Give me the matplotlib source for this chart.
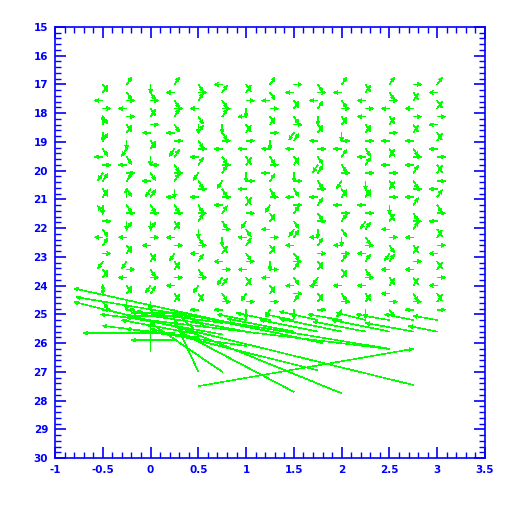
import numpy as np
import matplotlib
matplotlib.use('Agg')
import matplotlib.pyplot as plt
from matplotlib.ticker import MultipleLocator

# grid of small vectors: columns and rows
col_x = [-0.5, -0.25, 0.0, 0.25, 0.5, 0.75, 1.0, 1.25, 1.5, 1.75, 2.0, 2.25, 2.5, 2.75, 3.0]
row_y = [17.0, 17.28, 17.56, 17.84, 18.12, 18.4, 18.68, 18.96, 19.24, 19.52,
         19.8, 20.08, 20.36, 20.64, 20.92, 21.2, 21.48, 21.76, 22.04, 22.32,
         22.6, 22.88, 23.16, 23.44, 23.72, 24.0, 24.28, 24.56, 24.84]

# direction of each small arrow, 0=right 1=up-right 2=up ... 7=down-right (screen)
dir_codes = [
    "71407261740517163074105716270",
    "17040716574017270614715047160",
    "67071047160745170610471705167",
    "14701740517016470714057104716",
    "70147617041570470167041705714",
    "41701670470157041706714051704",
    "71064710471604710574170471506",
    "17407106470417057140716047105",
    "04717051471607401751470174016",
    "70416714075170417064107154710",
    "14707160417057140176401714705",
    "71404710741067140517041704716",
    "17047104714071067140751471407",
    "07140714704170417014710471704",
    "14710471407104170471047104710",
]

# larger vectors in the lower rows (tail x, tail y, dx, dy)
big_x = [1.0, 1.25, 1.5, 1.75, 2.0, 2.25, 2.5, 2.75, 3.0,
         1.0, 1.25, 1.5, 1.75, 2.0, 2.25, 2.5, 2.75, 3.0,
         0.5, 0.75, 0.5, 0.75,
         1.8, 2.5, 2.75, 0.5, 2.0, 1.5, 0.75, 0.5, 0.0, 1.75, 2.48,
         0.3, 0.3, 0.25, 0.5, 1.0, 0.25, 0.45, 0.6]
big_y = [25.2, 25.2, 25.2, 25.2, 25.2, 25.2, 25.2, 25.2, 25.2,
         25.6, 25.6, 25.6, 25.6, 25.6, 25.6, 25.6, 25.6, 25.6,
         25.3, 25.3, 25.7, 25.7,
         26.0, 26.2, 27.46, 27.5, 27.75, 27.7, 27.0, 27.0, 26.3, 26.95, 26.2,
         24.95, 25.05, 25.65, 25.8, 26.1, 25.9, 25.5, 25.45]
big_u = [-0.3, -0.35, -0.3, -0.4, -0.35, -0.3, -0.35, -0.3, -0.25,
         -0.55, -0.6, -0.7, -0.6, -0.65, -0.55, -0.6, -0.5, -0.3,
         -0.6, -0.9, -0.8, -1.0,
         -2.6, -3.28, -3.55, 2.25, -1.7, -1.2, -0.75, -0.25, 0.0, -1.75, -3.0,
         -0.5, -0.55, -0.95, -1.0, -1.25, -0.45, -0.2, -0.3]
big_v = [-0.2, -0.25, -0.2, -0.3, -0.2, -0.25, -0.2, -0.2, -0.15,
         -0.35, -0.4, -0.45, -0.4, -0.45, -0.35, -0.4, -0.3, -0.2,
         -0.3, -0.4, -0.5, -0.6,
         -1.9, -1.8, -2.89, -1.3, -2.3, -2.1, -1.7, -1.8, -1.0, -1.45, -1.2,
         0.0, 0.0, 0.0, -0.4, -0.6, 0.0, -0.6, -0.5]

# screen-space unit steps for each direction code (dx pixels, dy pixels up)
code_dx = [0.9, 0.55, 0.0, -0.55, -0.9, -0.55, 0.0, 0.55]
code_dy = [0.0, 0.8, 1.0, 0.8, 0.0, -0.8, -1.0, -0.8]
arrow_px = 9.0

fig = plt.figure(figsize=(5.12, 5.12), dpi=100)
ax = fig.add_axes([55/512, 54/512, 430/512, 431/512])
ax.set_xlim(-1, 3.5)
ax.set_ylim(30, 15)

px_x = 430 / 4.5
px_y = 431 / 15.0

xs, ys, us, vs = [], [], [], []
for i, cx in enumerate(col_x):
    codes = dir_codes[i]
    for j, ry in enumerate(row_y):
        c = int(codes[j])
        xs.append(cx)
        ys.append(ry)
        us.append(code_dx[c] * arrow_px / px_x)
        vs.append(-code_dy[c] * arrow_px / px_y)

xs = xs + big_x
ys = ys + big_y
us = us + big_u
vs = vs + big_v

ax.quiver(xs, ys, us, vs, angles='xy', scale_units='xy', scale=1,
          color='#00ff00', width=0.0013, headwidth=6.0, headlength=7.0,
          headaxislength=6.5, pivot='tail', antialiased=False)

blue = '#0000ff'
for s in ax.spines.values():
    s.set_color(blue)
    s.set_linewidth(1.2)
ax.xaxis.set_major_locator(MultipleLocator(0.5))
ax.xaxis.set_minor_locator(MultipleLocator(0.1))
ax.yaxis.set_major_locator(MultipleLocator(1))
ax.yaxis.set_minor_locator(MultipleLocator(0.2))
ax.tick_params(which='both', direction='in', top=True, right=True, colors=blue)
ax.tick_params(which='major', length=8, width=1.2, pad=5, labelsize=7.5)
ax.tick_params(which='minor', length=4.5, width=1.0)
ax.set_xticks(np.arange(-1, 3.51, 0.5))
ax.set_xticklabels(['-1', '-0.5', '0', '0.5', '1', '1.5', '2', '2.5', '3', '3.5'],
                   fontweight='bold')
ax.set_yticks(np.arange(15, 30.1, 1))
ax.set_yticklabels([str(v) for v in range(15, 31)], fontweight='bold')

fig.savefig('out.png', dpi=100)
